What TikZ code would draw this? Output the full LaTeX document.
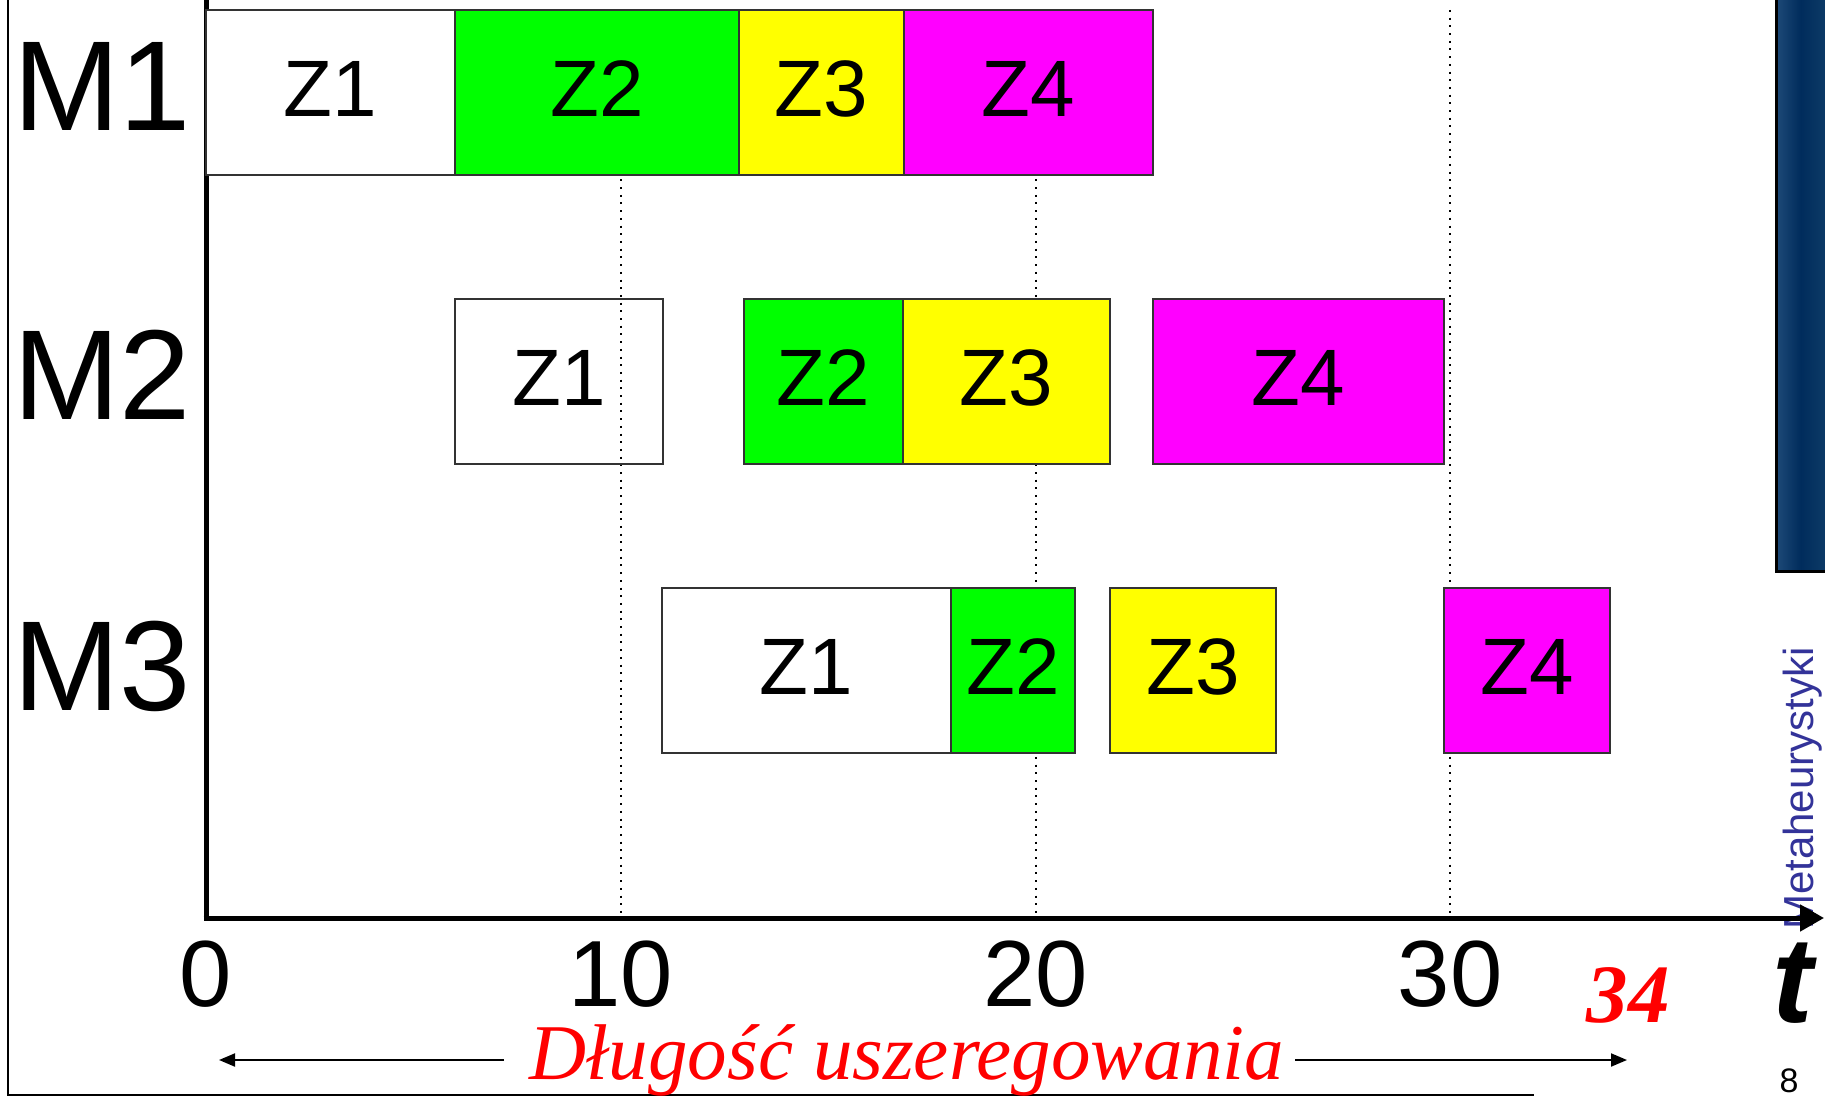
\documentclass[tikz,border=0pt]{standalone}
\usepackage{fontspec}
\setmainfont{Liberation Sans}
\newfontfamily\tnrfont{Liberation Serif}
\usetikzlibrary{arrows.meta}
\definecolor{zgreen}{RGB}{0,255,0}
\definecolor{zyellow}{RGB}{255,255,0}
\definecolor{zmag}{RGB}{255,0,255}
\definecolor{barL}{RGB}{30,74,120}
\definecolor{barM}{RGB}{0,44,92}
\definecolor{barR}{RGB}{12,58,102}
\definecolor{metacol}{RGB}{51,51,153}
\begin{document}
\begin{tikzpicture}[x=1pt,y=-1pt,
  task/.style={draw=black!80, line width=1.3pt, inner sep=0pt, minimum height=165pt,
               text depth=8pt, font=\fontsize{80}{82}\selectfont},
  machlabel/.style={anchor=base west, inner sep=0pt, font=\fontsize{128}{130}\selectfont},
  ticklabel/.style={anchor=base, inner sep=0pt, font=\fontsize{94}{96}\selectfont},
  gridline/.style={line width=2pt, dash pattern=on 2pt off 5.7pt},
  axisline/.style={line width=5pt},
  lenarrow/.style={line width=2pt, -{Triangle[length=16pt,width=13pt]}}
]
\useasboundingbox (0,0) rectangle (1825,1102);
\fill[white] (0,0) rectangle (1825,1102);

% frame
\draw[line width=2.5pt] (8,0) -- (8,1095) -- (1534,1095);

% vertical axis
\coordinate (origin) at (206,918);
\coordinate (ytop) at (206,0);
\draw[axisline] (ytop) -- ([yshift=-2.5pt]origin);

% white M1 Z1 box (covers axis)
\node[task, fill=white, minimum width=249pt] (m1z1) at (330.5,92.5) {Z1};

% dotted grid lines
\coordinate (g10t) at (621,10);  \coordinate (g10b) at (621,916);
\coordinate (g20t) at (1036,10); \coordinate (g20b) at (1036,916);
\coordinate (g30t) at (1450,10); \coordinate (g30b) at (1450,916);
\draw[gridline] (g10t) -- (g10b);
\draw[gridline] (g20t) -- (g20b);
\draw[gridline] (g30t) -- (g30b);

% M1
\node[task, fill=zgreen,  minimum width=284pt] (m1z2) at (597,92.5)    {Z2};
\node[task, fill=zyellow, minimum width=165pt] (m1z3) at (821.5,92.5)  {Z3};
\node[task, fill=zmag,    minimum width=249pt] (m1z4) at (1028.5,92.5) {Z4};
% M2
\node[task, minimum width=208pt] (m2z1) at (559,381.5) {Z1};
\node[task, fill=zgreen,  minimum width=159pt] (m2z2) at (823.5,381.5)  {Z2};
\node[task, fill=zyellow, minimum width=207pt] (m2z3) at (1006.5,381.5) {Z3};
\node[task, fill=zmag,    minimum width=291pt] (m2z4) at (1298.5,381.5) {Z4};
% M3
\node[task, fill=white,   minimum width=289pt] (m3z1) at (806.5,670.5) {Z1};
\node[task, fill=zgreen,  minimum width=124pt] (m3z2) at (1013,670.5)  {Z2};
\node[task, fill=zyellow, minimum width=166pt] (m3z3) at (1193,670.5)  {Z3};
\node[task, fill=zmag,    minimum width=166pt] (m3z4) at (1527,670.5)  {Z4};

% machine labels
\node[machlabel] (lm1) at (13,131) {M1};
\node[machlabel] (lm2) at (13,419) {M2};
\node[machlabel] (lm3) at (13,710) {M3};

% tick labels
\node[ticklabel] (t0)  at (206,1006)  {0};
\node[ticklabel] (t10) at (621,1006)  {10};
\node[ticklabel] (t20) at (1036,1006) {20};
\node[ticklabel] (t30) at (1450,1006) {30};

% blue side bar
\shade[left color=barL, right color=barR, middle color=barM] (1776,0) rectangle (1825,571);
\draw[line width=3pt] (1776,0) -- (1776,571) -- (1825,571);

% side text
\node[rotate=90, anchor=base west, inner sep=0pt, text=metacol,
      font=\fontsize{42}{44}\selectfont] (meta) at (1813,930) {Metaheurystyki};
\node[inner sep=0pt, font=\fontsize{34}{35}\selectfont] (pagenum) at (1789,1081) {8};

% horizontal axis
\coordinate (xend) at (1824,918);
\draw[line width=5pt, -{Triangle[length=24pt,width=26pt]}] ([xshift=-2.5pt]origin) -- (xend);

% t, 34
\node[anchor=base, inner sep=0pt, font=\bfseries\itshape\fontsize{122}{124}\selectfont] (tlab) at (1793,1022) {t};
\node[anchor=base, inner sep=0pt, text=red, font=\tnrfont\bfseries\itshape\fontsize{83}{85}\selectfont] (c34) at (1628,1022) {34};

% schedule length
\node[anchor=base, inner sep=0pt, text=red, font=\tnrfont\itshape\fontsize{79}{81}\selectfont] (len) at (907,1079) {Długość uszeregowania};
\coordinate (lenLs) at (504,1060); \coordinate (lenL) at (219,1060);
\coordinate (lenRs) at (1295,1060); \coordinate (lenR) at (1627,1060);
\draw[lenarrow] (lenLs) -- (lenL);
\draw[lenarrow] (lenRs) -- (lenR);
\end{tikzpicture}
\end{document}
